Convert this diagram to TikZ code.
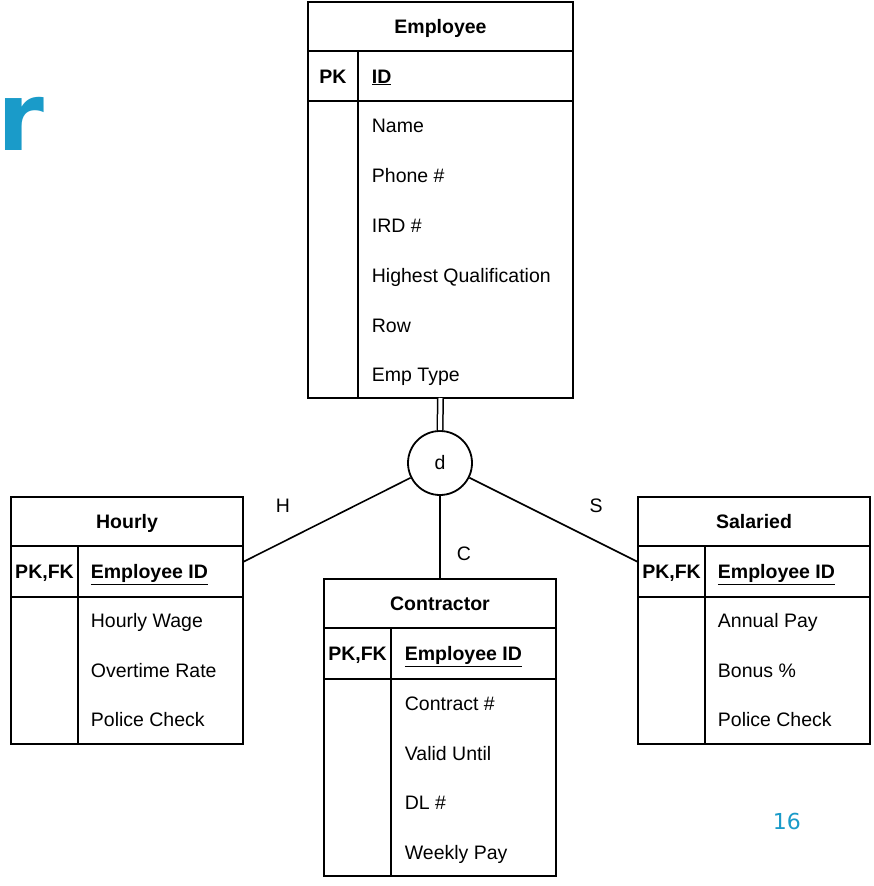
\documentclass[tikz,border=0pt]{standalone}
\usepackage{fontspec}
\setmainfont{Liberation Sans}
\newfontfamily\vfont{DejaVu Sans}
\definecolor{accent}{HTML}{1A9BC9}
\begin{document}
\begin{tikzpicture}[x=1pt,y=-1pt,line width=1.8pt,
  tbl/.style={draw,anchor=north west,inner sep=0,outer sep=0},
  fld/.style={anchor=base west,inner sep=0,font=\fontsize{19.5}{22}\selectfont},
  fldb/.style={anchor=base west,inner sep=0,font=\bfseries\fontsize{19.5}{22}\selectfont},
  hdr/.style={anchor=base,inner sep=0,font=\bfseries\fontsize{19.5}{22}\selectfont},
  keyt/.style={anchor=base,inner sep=0,font=\bfseries\fontsize{19.5}{22}\selectfont},
  lbl/.style={anchor=base,inner sep=0,font=\fontsize{19.5}{22}\selectfont},
  conn/.style={draw,line width=1.6pt}]
\useasboundingbox (0,0) rectangle (874,886);
\fill[white] (0,0) rectangle (874,886);

% title fragment and page number
\node[anchor=base west,inner sep=0,text=accent,font=\vfont\bfseries\fontsize{95}{95}\selectfont] (title) at (-3,150) {r};
\node[anchor=base west,inner sep=0,text=accent,font=\vfont\fontsize{22}{24}\selectfont] (pagenum) at (772,829) {16};

% ---------------- Employee ----------------
\node[tbl,minimum width=265pt,minimum height=396pt] (emp) at (308,2) {};
\draw (308,51) -- (573,51);
\draw (308,101) -- (573,101);
\draw (358,51) -- (358,398);
\node[hdr] (empH) at (440.5,33) {Employee};
\node[keyt] (empK) at (333,83) {PK};
\node[fldb] (empID) at (371,83) {\underline{ID}};
\node[fld] (e1) at (371,132) {Name};
\node[fld] (e2) at (371,182) {Phone \#};
\node[fld] (e3) at (371,232) {IRD \#};
\node[fld] (e4) at (371,282) {Highest Qualification};
\node[fld] (e5) at (371,332) {Row};
\node[fld] (e6) at (371,381) {Emp Type};

% ---------------- Hourly ----------------
\node[tbl,minimum width=232pt,minimum height=247pt] (hr) at (11,497) {};
\draw (11,546) -- (243,546);
\draw (11,597) -- (243,597);
\draw (78,546) -- (78,744);
\node[hdr] (hrH) at (127,528) {Hourly};
\node[keyt] (hrK) at (44.5,578.5) {PK,FK};
\node[fldb] (hrID) at (90,578.5) {\underline{Employee ID}};
\node[fld] (h1) at (90,627) {Hourly Wage};
\node[fld] (h2) at (90,677) {Overtime Rate};
\node[fld] (h3) at (90,726) {Police Check};
\coordinate (hrE) at (243,562);

% ---------------- Contractor ----------------
\node[tbl,minimum width=232pt,minimum height=297pt] (ct) at (324,579) {};
\draw (324,628) -- (556,628);
\draw (324,679) -- (556,679);
\draw (391,628) -- (391,876);
\node[hdr] (ctH) at (440,610) {Contractor};
\node[keyt] (ctK) at (357.5,660.5) {PK,FK};
\node[fldb] (ctID) at (404,660.5) {\underline{Employee ID}};
\node[fld] (c1) at (404,710) {Contract \#};
\node[fld] (c2) at (404,760) {Valid Until};
\node[fld] (c3) at (404,809) {DL \#};
\node[fld] (c4) at (404,859) {Weekly Pay};
\coordinate (ctN) at (440,579);

% ---------------- Salaried ----------------
\node[tbl,minimum width=232pt,minimum height=247pt] (sl) at (638,497) {};
\draw (638,546) -- (870,546);
\draw (638,597) -- (870,597);
\draw (705,546) -- (705,744);
\node[hdr] (slH) at (754,528) {Salaried};
\node[keyt] (slK) at (671.5,578.5) {PK,FK};
\node[fldb] (slID) at (717,578.5) {\underline{Employee ID}};
\node[fld] (s1) at (717,627) {Annual Pay};
\node[fld] (s2) at (717,677) {Bonus \%};
\node[fld] (s3) at (717,726) {Police Check};
\coordinate (slW) at (638,562);

% ---------------- disjoint circle ----------------
\node[draw,circle,minimum size=64pt,inner sep=0,font=\fontsize{19.5}{22}\selectfont] (d) at (440,463) {d};
\draw[double,double distance=4pt,line width=1.5pt] (emp.south) -- (d.north);
\draw[conn] (d) -- (hrE);
\draw[conn] (d) -- (slW);
\draw[conn] (d.south) -- (ctN);

\node[lbl] (lH) at (283,512) {H};
\node[lbl] (lS) at (596,512) {S};
\node[lbl] (lC) at (464,560) {C};
\end{tikzpicture}
\end{document}
